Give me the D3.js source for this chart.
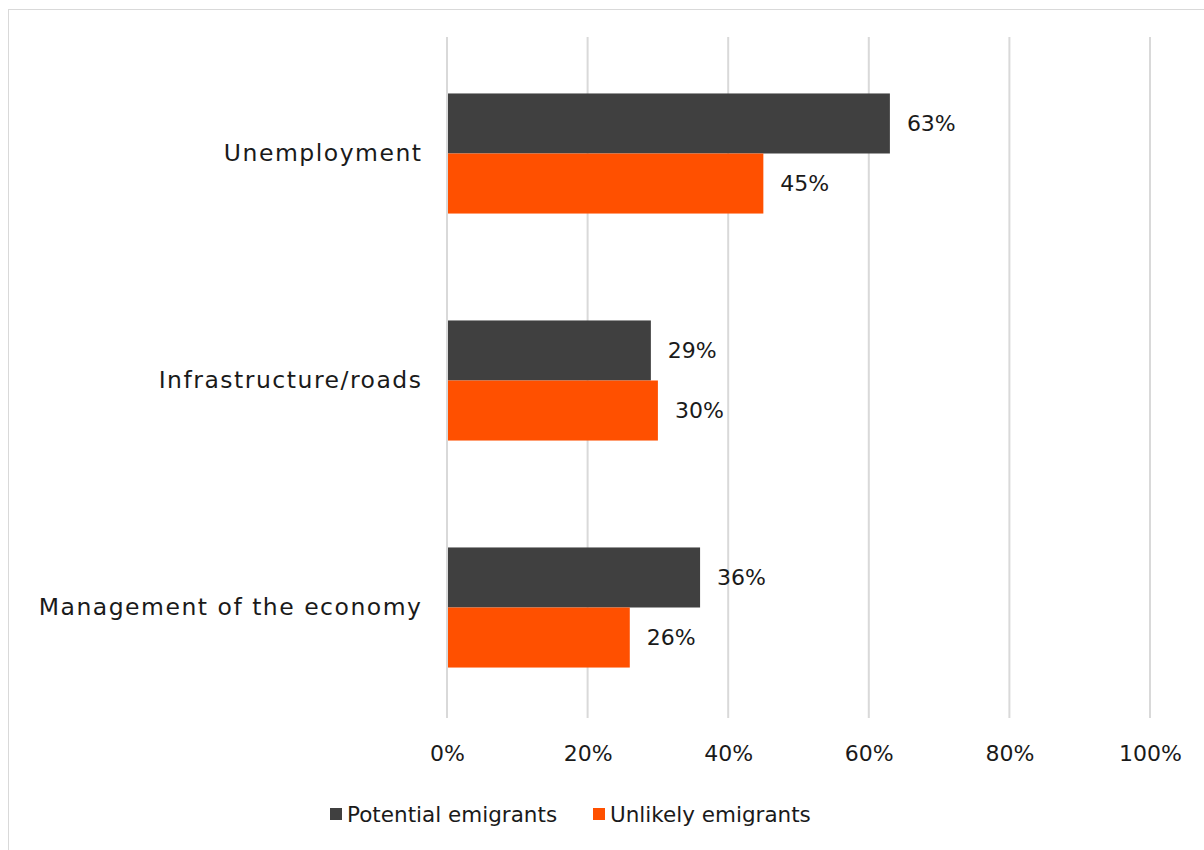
<!DOCTYPE html>
<html><head><meta charset="utf-8">
<script src="https://cdn.jsdelivr.net/npm/d3@7"></script>
<style>body{margin:0;background:#fff;} svg{display:block;} text{font-family:"DejaVu Sans",sans-serif;fill:#1a1a1a;}</style>
</head><body>
<svg id="chart" width="1204" height="850"></svg>
<script>
const categories = ["Unemployment", "Infrastructure/roads", "Management of the economy"];
const seriesNames = ["Potential emigrants", "Unlikely emigrants"];
const potential = [63, 29, 36];
const unlikely = [45, 30, 26];
const xTicks = [0, 20, 40, 60, 80, 100];
const colors = ["#404040", "#FF5000"];

const svg = d3.select("#chart");
const fs = 22;
const wordFs = 23.5;
const wordLs = 1.5;

// chart frame
svg.append("rect").attr("x", 8.5).attr("y", 9.5).attr("width", 1204).attr("height", 850)
  .attr("fill", "none").attr("stroke", "#d9d9d9").attr("stroke-width", 1);

const x = d3.scaleLinear().domain([0, 100]).range([447, 1150]);
const y = d3.scaleBand().domain(categories).range([40, 721]).paddingInner(0.471).paddingOuter(0.2355);
const ySub = d3.scaleBand().domain(seriesNames).range([0, y.bandwidth()]);

// gridlines
svg.append("g").selectAll("line").data(xTicks).join("line")
  .attr("x1", d => x(d)).attr("x2", d => x(d))
  .attr("y1", 37).attr("y2", 718)
  .attr("stroke", "#d9d9d9").attr("stroke-width", 2);

// x axis labels
const xAxis = d3.axisBottom(x).tickValues(xTicks).tickFormat(d => d + "%").tickSize(0).tickPadding(0);
const gx = svg.append("g").attr("transform", "translate(0,745)").call(xAxis);
gx.select(".domain").remove();
gx.selectAll("text").style("font-size", fs + "px").style("font-family", "DejaVu Sans").attr("fill", "#1a1a1a");

// y axis labels
const yAxis = d3.axisLeft(y).tickSize(0).tickPadding(0);
const gy = svg.append("g").attr("transform", `translate(${421 + wordLs},0)`).call(yAxis);
gy.select(".domain").remove();
gy.selectAll("text").style("font-size", wordFs + "px").style("letter-spacing", wordLs + "px")
  .style("font-family", "DejaVu Sans").attr("fill", "#1a1a1a");

const data = [];
categories.forEach((c, i) => {
  data.push({cat: c, s: seriesNames[0], v: potential[i], color: colors[0]});
  data.push({cat: c, s: seriesNames[1], v: unlikely[i], color: colors[1]});
});

svg.append("g").selectAll("rect").data(data).join("rect")
  .attr("x", x(0) + 1)
  .attr("y", d => y(d.cat) + ySub(d.s))
  .attr("width", d => x(d.v) - x(0) - 1)
  .attr("height", ySub.bandwidth())
  .attr("fill", d => d.color);

svg.append("g").selectAll("text").data(data).join("text")
  .attr("x", d => x(d.v) + 17)
  .attr("y", d => y(d.cat) + ySub(d.s) + ySub.bandwidth() / 2)
  .attr("dy", "0.35em")
  .style("font-size", fs + "px")
  .text(d => d.v + "%");

// legend
const legendItems = [{name: seriesNames[0], color: colors[0], x: 330}, {name: seriesNames[1], color: colors[1], x: 593}];
const lg = svg.append("g");
legendItems.forEach(it => {
  lg.append("rect").attr("x", it.x).attr("y", 808).attr("width", 12).attr("height", 12).attr("fill", it.color);
  lg.append("text").attr("x", it.x + 17).attr("y", 814).attr("dy", "0.35em")
    .style("font-size", "21.5px").text(it.name);
});
</script>
</body></html>
